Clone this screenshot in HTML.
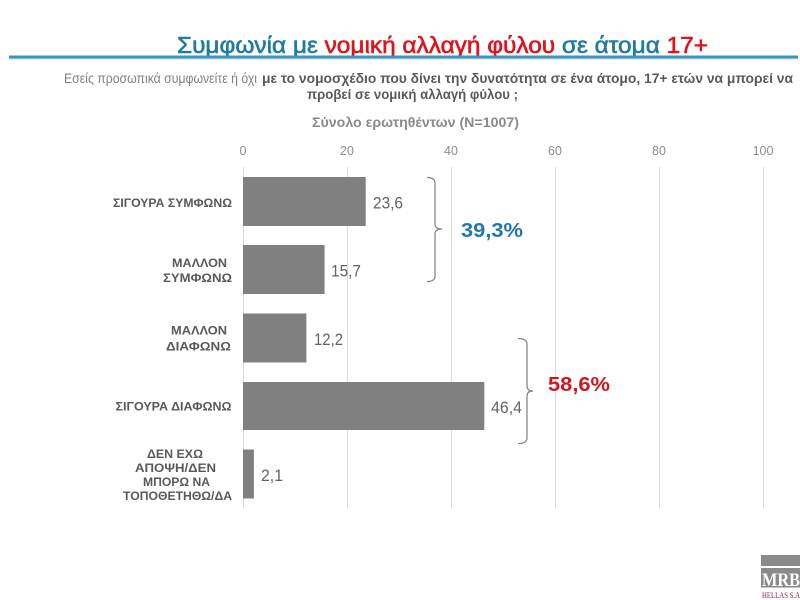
<!DOCTYPE html>
<html>
<head>
<meta charset="utf-8">
<style>
  html,body{margin:0;padding:0;background:#fff;}
  svg{display:block;}
  text{font-family:"Liberation Sans","DejaVu Sans",sans-serif;}
  .serif{font-family:"Liberation Serif","DejaVu Serif",serif;}
</style>
</head>
<body>
<svg width="800" height="600" viewBox="0 0 800 600" xmlns="http://www.w3.org/2000/svg">
  <rect width="800" height="600" fill="#ffffff"/>

  <!-- Title -->
  <text x="177" y="53" font-size="23" stroke-width="0.6" textLength="531" lengthAdjust="spacingAndGlyphs"><tspan fill="#1f7ba3" stroke="#1f7ba3">Συμφωνία με </tspan><tspan fill="#e0121b" stroke="#e0121b">νομική αλλαγή φύλου</tspan><tspan fill="#1f7ba3" stroke="#1f7ba3"> σε άτομα </tspan><tspan fill="#e0121b" stroke="#e0121b">17+</tspan></text>
  <rect x="9" y="55.5" width="789" height="3" fill="#3f94bd"/>
  <rect x="9" y="58.5" width="789" height="1" fill="#c9dde8"/>

  <!-- Subtitle -->
  <text x="64" y="83" font-size="13.5" fill="#7f7f7f" textLength="193" lengthAdjust="spacingAndGlyphs">Εσείς προσωπικά συμφωνείτε ή όχι</text>
  <text x="262" y="83" font-size="13.5" font-weight="bold" fill="#595959" textLength="531" lengthAdjust="spacingAndGlyphs">με το νομοσχέδιο  που δίνει την δυνατότητα σε  ένα άτομο, 17+  ετών να μπορεί να</text>
  <text x="307" y="99" font-size="13.5" font-weight="bold" fill="#595959" textLength="211" lengthAdjust="spacingAndGlyphs">προβεί σε νομική αλλαγή φύλου ;</text>
  <text x="312" y="127" font-size="13.5" font-weight="bold" fill="#8a8a8a" textLength="207" lengthAdjust="spacingAndGlyphs">Σύνολο ερωτηθέντων (N=1007)</text>

  <!-- Axis tick labels -->
  <g font-size="12.5" fill="#8c8c8c" text-anchor="middle">
    <text x="243" y="155">0</text>
    <text x="347" y="155">20</text>
    <text x="451" y="155">40</text>
    <text x="555" y="155">60</text>
    <text x="659" y="155">80</text>
    <text x="763" y="155">100</text>
  </g>

  <!-- Gridlines -->
  <g stroke="#d9d9d9" stroke-width="1">
    <line x1="243.5" y1="167" x2="243.5" y2="508"/>
    <line x1="347.5" y1="167" x2="347.5" y2="508"/>
    <line x1="451.5" y1="167" x2="451.5" y2="508"/>
    <line x1="555.5" y1="167" x2="555.5" y2="508"/>
    <line x1="659.5" y1="167" x2="659.5" y2="508"/>
    <line x1="763.5" y1="167" x2="763.5" y2="508"/>
  </g>

  <!-- Bars -->
  <g fill="#808080">
    <rect x="243" y="177" width="122.7" height="49"/>
    <rect x="243" y="245" width="81.6" height="49"/>
    <rect x="243" y="313.5" width="63.4" height="49"/>
    <rect x="243" y="382" width="241.3" height="48"/>
    <rect x="243" y="449.5" width="10.9" height="49"/>
  </g>

  <!-- Value labels -->
  <g font-size="17" fill="#636363">
    <text x="373" y="208.5" textLength="30" lengthAdjust="spacingAndGlyphs">23,6</text>
    <text x="331" y="276.5" textLength="30" lengthAdjust="spacingAndGlyphs">15,7</text>
    <text x="314" y="345" textLength="29" lengthAdjust="spacingAndGlyphs">12,2</text>
    <text x="491" y="413" textLength="31" lengthAdjust="spacingAndGlyphs">46,4</text>
    <text x="261" y="481" textLength="22" lengthAdjust="spacingAndGlyphs">2,1</text>
  </g>

  <!-- Category labels -->
  <g font-size="11.5" font-weight="bold" fill="#595959" text-anchor="middle">
    <text x="172.5" y="207" textLength="119" lengthAdjust="spacingAndGlyphs">ΣΙΓΟΥΡΑ ΣΥΜΦΩΝΩ</text>
    <text x="199.5" y="267" textLength="55" lengthAdjust="spacingAndGlyphs">ΜΑΛΛΟΝ</text>
    <text x="197.5" y="282" textLength="69" lengthAdjust="spacingAndGlyphs">ΣΥΜΦΩΝΩ</text>
    <text x="199" y="334.5" textLength="56" lengthAdjust="spacingAndGlyphs">ΜΑΛΛΟΝ</text>
    <text x="198.5" y="350.5" textLength="65" lengthAdjust="spacingAndGlyphs">ΔΙΑΦΩΝΩ</text>
    <text x="173.5" y="410.5" textLength="116" lengthAdjust="spacingAndGlyphs">ΣΙΓΟΥΡΑ ΔΙΑΦΩΝΩ</text>
    <text x="175" y="458" textLength="56" lengthAdjust="spacingAndGlyphs">ΔΕΝ ΕΧΩ</text>
    <text x="175.5" y="472" textLength="81" lengthAdjust="spacingAndGlyphs">ΑΠΟΨΗ/ΔΕΝ</text>
    <text x="176.5" y="486" textLength="67" lengthAdjust="spacingAndGlyphs">ΜΠΟΡΩ ΝΑ</text>
    <text x="177.5" y="500" textLength="109" lengthAdjust="spacingAndGlyphs">ΤΟΠΟΘΕΤΗΘΩ/ΔΑ</text>
  </g>

  <!-- Braces -->
  <g fill="none" stroke="#808080" stroke-width="1.2">
    <path d="M427,177.5 Q435,177.5 435,183 L435,224 Q435,229 442,229 Q435,229 435,234 L435,276 Q435,281.5 427,281.5"/>
    <path d="M518,338.5 Q527,338.5 527,344 L527,386 Q527,391 533,391 Q527,391 527,396 L527,438 Q527,443.5 518,443.5"/>
  </g>

  <!-- Totals -->
  <text x="461" y="237" font-size="20" font-weight="bold" fill="#2374b5" textLength="62" lengthAdjust="spacingAndGlyphs">39,3%</text>
  <text x="548" y="391" font-size="20" font-weight="bold" fill="#d0161f" textLength="62" lengthAdjust="spacingAndGlyphs">58,6%</text>

  <!-- Logo -->
  <rect x="761" y="555" width="39" height="11" fill="#8a8a8a"/>
  <rect x="761" y="568" width="39" height="19.5" fill="#8a8a8a"/>
  <text class="serif" x="762" y="586" font-size="19" font-weight="bold" fill="#ffffff" textLength="38" lengthAdjust="spacingAndGlyphs">MRB</text>
  <text class="serif" x="762" y="598" font-size="8" fill="#8b1a3a" textLength="38" lengthAdjust="spacingAndGlyphs">HELLAS S.A</text>
</svg>
</body>
</html>
